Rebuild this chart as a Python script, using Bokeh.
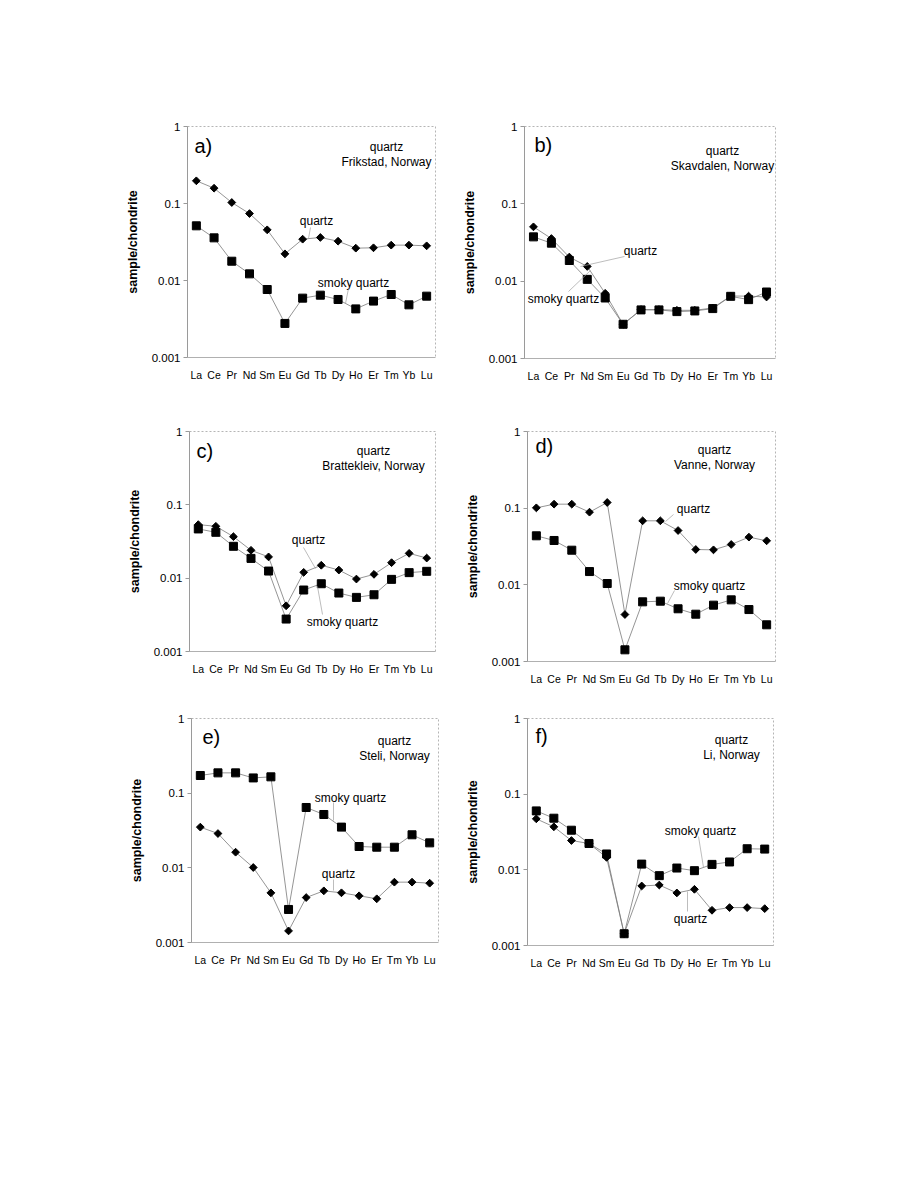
import math
from bokeh.plotting import figure
from bokeh.layouts import row, column
from bokeh.models import Range1d, FactorRange, FixedTicker, NumeralTickFormatter
from bokeh.embed import file_html
from bokeh.resources import INLINE
from bokeh.core.properties import value

# ---------------- data ----------------
REE = ["La", "Ce", "Pr", "Nd", "Sm", "Eu", "Gd", "Tb", "Dy", "Ho", "Er", "Tm", "Yb", "Lu"]
Y_TICKS = [0.001, 0.01, 0.1, 1]
Y_LABEL = "sample/chondrite"

a_quartz = [0.197, 0.158, 0.103, 0.074, 0.0455, 0.0222, 0.0344, 0.0362, 0.0324, 0.0263, 0.0266, 0.0288, 0.0288, 0.0282]
a_smoky = [0.0513, 0.0358, 0.0178, 0.0122, 0.00764, 0.00277, 0.0059, 0.00645, 0.00567, 0.00428, 0.0054, 0.00658, 0.00483, 0.00626]

b_quartz = [0.0504, 0.0356, 0.0205, 0.0155, 0.00697, 0.00277, 0.00429, 0.00429, 0.0042, 0.0042, 0.0045, 0.00643, 0.0064, 0.00624]
b_smoky = [0.0374, 0.031, 0.0185, 0.01055, 0.00606, 0.00277, 0.00425, 0.00425, 0.00404, 0.00412, 0.00442, 0.00637, 0.00577, 0.00724]

c_quartz = [0.0537, 0.051, 0.0368, 0.024, 0.0195, 0.0042, 0.012, 0.015, 0.0129, 0.00973, 0.01127, 0.01626, 0.0218, 0.0188]
c_smoky = [0.0469, 0.0422, 0.0272, 0.0186, 0.0125, 0.00277, 0.00689, 0.0084, 0.00627, 0.00547, 0.00594, 0.00963, 0.0119, 0.0124]

d_quartz = [0.101, 0.1128, 0.1128, 0.0887, 0.1186, 0.0041, 0.0684, 0.0684, 0.0511, 0.0289, 0.0286, 0.0336, 0.0419, 0.0375]
d_smoky = [0.0436, 0.0379, 0.0283, 0.0149, 0.0104, 0.00142, 0.006, 0.00612, 0.00487, 0.00414, 0.00543, 0.00637, 0.00476, 0.00301]

e_quartz = [0.0351, 0.0288, 0.0162, 0.0101, 0.00462, 0.00143, 0.0040, 0.00492, 0.00463, 0.00422, 0.00385, 0.00643, 0.00643, 0.00623]
e_smoky = [0.1725, 0.187, 0.187, 0.160, 0.1655, 0.00277, 0.0643, 0.0518, 0.0351, 0.0193, 0.0189, 0.0189, 0.0277, 0.0216]

f_quartz = [0.0472, 0.037, 0.0244, 0.0223, 0.0146, 0.00143, 0.00612, 0.0063, 0.00495, 0.00553, 0.00292, 0.00317, 0.00317, 0.00307]
f_smoky = [0.0601, 0.0481, 0.0334, 0.0223, 0.0162, 0.00143, 0.0119, 0.00838, 0.01056, 0.00975, 0.0118, 0.0127, 0.019, 0.0188]

FONT = "Liberation Sans"
LINE_COL = "#7a7a7a"
LEAD_COL = "#a0a0a0"


def panel(letter, site, quartz, smoky, frame, borders, letter_pos, title_pos, labels):
    """frame = (left, top, width, height) of plot area on the page (px)."""
    L, T, W, H = frame
    bl, bt, br, bb = borders
    n = len(REE)

    def gx(px):
        return (px - L) / W * n

    def gy(py):
        return 10 ** (-3.0 * (py - T) / H)

    p = figure(x_range=FactorRange(*REE), y_range=Range1d(0.001, 1), y_axis_type="log",
               frame_width=W, frame_height=H,
               min_border_left=bl, min_border_top=bt, min_border_right=br, min_border_bottom=bb,
               output_backend="svg", toolbar_location=None, title=None)
    p.xgrid.grid_line_color = None
    p.ygrid.grid_line_color = None
    p.outline_line_color = "#b5b5b5"
    p.outline_line_dash = "2 2"
    p.outline_line_width = 1
    p.background_fill_color = "white"
    p.border_fill_color = "white"

    ya = p.yaxis[0]
    ya.ticker = FixedTicker(ticks=Y_TICKS, minor_ticks=[])
    ya.formatter = NumeralTickFormatter(format="0.[000]")
    ya.axis_line_color = "#9a9a9a"
    ya.major_tick_line_color = "#9a9a9a"
    ya.major_tick_out = 4
    ya.major_tick_in = 0
    ya.minor_tick_line_color = None
    ya.major_label_text_font = FONT
    ya.major_label_text_font_size = "11.5px"
    ya.major_label_text_color = "black"
    ya.major_label_standoff = 3
    ya.axis_label = Y_LABEL
    ya.axis_label_text_font = FONT
    ya.axis_label_text_font_style = "bold"
    ya.axis_label_text_font_size = "12.5px"
    ya.axis_label_text_color = "black"
    ya.axis_label_standoff = 9

    xa = p.xaxis[0]
    xa.axis_line_color = "#b0b0b0"
    xa.major_tick_line_color = None
    xa.minor_tick_line_color = None
    xa.major_label_text_font = FONT
    xa.major_label_text_font_size = "10.5px"
    xa.major_label_text_color = "black"
    xa.major_label_standoff = 5

    # series
    p.line(REE, quartz, line_color=LINE_COL, line_width=0.8)
    p.line(REE, smoky, line_color=LINE_COL, line_width=0.8)
    p.scatter(REE, quartz, marker="square", size=5.5, angle=math.pi / 4, color="black")
    p.scatter(REE, smoky, marker="square", size=8, color="black")

    # panel letter
    p.text(x=[gx(letter_pos[0])], y=[gy(letter_pos[1])], text=[letter],
           text_font=value(FONT), text_font_size="20px", text_align="left",
           text_baseline="middle", text_color="black")
    # title block
    tx, ty = title_pos
    p.text(x=[gx(tx), gx(tx)], y=[gy(ty), gy(ty + 15)], text=["quartz", site],
           text_font=value(FONT), text_font_size="12px", text_align="center",
           text_baseline="middle", text_color="black")
    # series labels with leader lines
    for (txt, (lx, ly), (x0, y0, x1, y1)) in labels:
        p.text(x=[gx(lx)], y=[gy(ly)], text=[txt], text_font=value(FONT),
               text_font_size="12px", text_align="center", text_baseline="middle",
               text_color="black")
        p.segment(x0=[gx(x0)], y0=[gy(y0)], x1=[gx(x1)], y1=[gy(y1)],
                  line_color=LEAD_COL, line_width=0.7)
    return p


pa = panel("a)", "Frikstad, Norway", a_quartz, a_smoky,
           (187, 126, 248, 231), (187, 126, 15, 43), (194, 145), (386, 146),
           [("quartz", (316, 220), (310, 227, 308, 238)),
            ("smoky quartz", (353, 282), (348, 288, 345, 303))])

pb = panel("b)", "Skavdalen, Norway", b_quartz, b_smoky,
           (524, 122, 251, 232), (74, 122, 10, 46), (534, 140), (722, 146),
           [("quartz", (640, 246), (624, 252, 580, 262)),
            ("smoky quartz", (563, 294), (568, 287, 590, 266))])

pc = panel("c)", "Brattekleiv, Norway", c_quartz, c_smoky,
           (189, 431, 246, 220), (189, 31, 15, 49), (196, 450), (373, 450),
           [("quartz", (308, 539), (303, 547, 315, 568)),
            ("smoky quartz", (342, 621), (322, 614, 317, 586))])

pd = panel("d)", "Vanne, Norway", d_quartz, d_smoky,
           (527, 424, 248, 230), (77, 24, 10, 46), (535, 438), (714, 442),
           [("quartz", (693, 501), (673, 507, 665, 514)),
            ("smoky quartz", (709, 578), (674, 583, 667, 596))])

pe = panel("e)", "Steli, Norway", e_quartz, e_smoky,
           (191, 718, 247, 224), (191, 18, 12, 40), (202, 736), (394, 740),
           [("smoky quartz", (350, 797), (333, 802, 333, 820)),
            ("quartz", (338, 873), (333, 879, 333, 890))])

pf = panel("f)", "Li, Norway", f_quartz, f_smoky,
           (527, 717, 246, 227), (77, 17, 10, 38), (535, 734), (731, 738),
           [("smoky quartz", (700, 829), (698, 835, 703, 866)),
            ("quartz", (690, 917), (687, 910, 687, 890))])

layout = column(row(pa, pb), row(pc, pd), row(pe, pf))

open("out.html", "w").write(file_html(layout, INLINE))
